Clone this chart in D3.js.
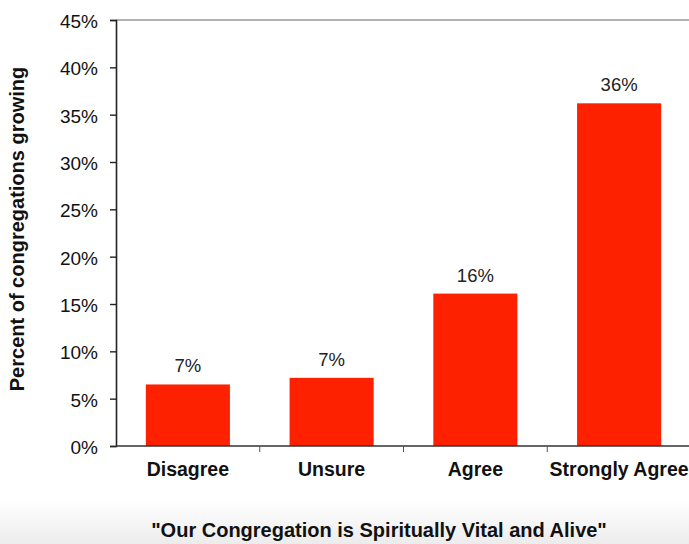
<!DOCTYPE html>
<html>
<head>
<meta charset="utf-8">
<script src="https://cdn.jsdelivr.net/npm/d3@7"></script>
<style>
  html, body { margin: 0; padding: 0; background: #fff; }
  svg { display: block; font-family: "Liberation Sans", Arial, sans-serif; }
</style>
</head>
<body>
<svg id="chart" width="689" height="544"></svg>
<script>
// Survey categories and share of growing congregations (percent)
const categories = ["Disagree", "Unsure", "Agree", "Strongly Agree"];
const values = [6.5, 7.2, 16.1, 36.2];
const yTicks = [0, 5, 10, 15, 20, 25, 30, 35, 40, 45];
const yTitle = "Percent of congregations growing";
const xTitle = "\"Our Congregation is Spiritually Vital and Alive\"";

const svg = d3.select("#chart");
const W = 689, H = 544;
const plotLeft = 116, plotTop = 20, plotBottom = 446, plotRight = 691;

// soft grey fade at the foot of the slide
const defs = svg.append("defs");
const grad = defs.append("linearGradient").attr("id", "fade")
  .attr("x1", 0).attr("y1", 0).attr("x2", 0).attr("y2", 1);
grad.append("stop").attr("offset", "0%").attr("stop-color", "#ffffff");
grad.append("stop").attr("offset", "100%").attr("stop-color", "#ececec");
svg.append("rect").attr("x", 0).attr("y", 500).attr("width", W).attr("height", H - 500)
  .attr("fill", "url(#fade)");

const x = d3.scaleBand().domain(categories).range([plotLeft, plotRight]).paddingInner(0.415).paddingOuter(0.2075);
const y = d3.scaleLinear().domain([0, 45]).range([plotBottom, plotTop]);

// top frame line
svg.append("line").attr("x1", plotLeft).attr("x2", W).attr("y1", plotTop).attr("y2", plotTop)
  .attr("stroke", "#999").attr("stroke-width", 1.6);

// bars
svg.append("g").selectAll("rect").data(values).join("rect")
  .attr("x", (d, i) => x(categories[i]))
  .attr("y", d => y(d))
  .attr("width", x.bandwidth())
  .attr("height", d => y(0) - y(d))
  .attr("fill", "#fe2100");

// value labels
svg.append("g").selectAll("text").data(values).join("text")
  .attr("x", (d, i) => x(categories[i]) + x.bandwidth() / 2)
  .attr("y", d => y(d) - 12)
  .attr("text-anchor", "middle")
  .attr("font-size", 18.5)
  .attr("fill", "#222")
  .text(d => Math.round(d) + "%");

// y axis
const yAxis = svg.append("g").attr("transform", `translate(${plotLeft},0)`)
  .call(d3.axisLeft(y).tickValues(yTicks).tickFormat(d => d + "%").tickSize(6).tickPadding(12));
yAxis.select(".domain").attr("stroke", "#222").attr("stroke-width", 1.6);
yAxis.selectAll(".tick line").attr("stroke", "#222").attr("stroke-width", 1.4);
yAxis.selectAll(".tick text").attr("font-size", 19).attr("fill", "#111").attr("dy", "0.4em")
  .attr("font-family", "Liberation Sans, Arial, sans-serif");

// x axis: baseline with separator ticks between categories
const xAxisG = svg.append("g");
xAxisG.append("line").attr("x1", plotLeft).attr("x2", W).attr("y1", plotBottom).attr("y2", plotBottom)
  .attr("stroke", "#333").attr("stroke-width", 1.4);
const seps = categories.slice(1).map(c => x(c) - x.step() * x.paddingInner() / 2);
xAxisG.selectAll("line.sep").data(seps).join("line").attr("class", "sep")
  .attr("x1", d => d).attr("x2", d => d).attr("y1", plotBottom).attr("y2", plotBottom + 6)
  .attr("stroke", "#555").attr("stroke-width", 1);
xAxisG.selectAll("text").data(categories).join("text")
  .attr("x", d => x(d) + x.bandwidth() / 2)
  .attr("y", 476)
  .attr("text-anchor", "middle")
  .attr("font-size", 19.5)
  .attr("font-weight", "bold")
  .attr("fill", "#111")
  .text(d => d);

// axis titles
svg.append("text")
  .attr("transform", "translate(24,229) rotate(-90)")
  .attr("text-anchor", "middle")
  .attr("font-size", 20)
  .attr("font-weight", "bold")
  .attr("fill", "#111")
  .text(yTitle);

svg.append("text")
  .attr("x", 379).attr("y", 537)
  .attr("text-anchor", "middle")
  .attr("font-size", 20)
  .attr("font-weight", "bold")
  .attr("fill", "#111")
  .text(xTitle);
</script>
</body>
</html>
